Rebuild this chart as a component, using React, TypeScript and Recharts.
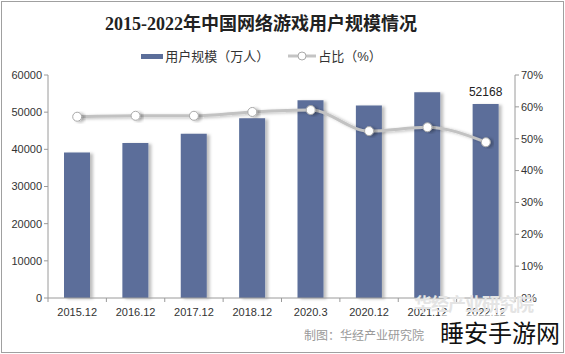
import React from "react";
import {
  ComposedChart,
  Bar,
  Line,
  XAxis,
  YAxis,
  LabelList,
} from "recharts";

const categories = ["2015.12", "2016.12", "2017.12", "2018.12", "2020.3", "2020.12", "2021.12", "2022.12"];
const users = [39148, 41704, 44161, 48384, 53182, 51793, 55354, 52168];
const ratio = [56.9, 57.2, 57.2, 58.4, 59.0, 52.4, 53.6, 48.9];
const leftTicks = [0, 10000, 20000, 30000, 40000, 50000, 60000];
const rightTicks = [0, 10, 20, 30, 40, 50, 60, 70];

const data = categories.map((c, i) => ({ name: c, users: users[i], ratio: ratio[i] }));

const BAR = "#5b6e9a";
const AXIS = "#9a9a9a";
const FONT = "'Liberation Sans', Arial, 'Noto Sans CJK SC', sans-serif";

const XTick = (props: any) => {
  const { x, y, payload, index } = props;
  const off = payload.offset || 0;
  return (
    <g>
      <line x1={x - off} x2={x - off} y1={y - 8} y2={y - 4} stroke={AXIS} />
      {index === categories.length - 1 && (
        <line x1={x + off} x2={x + off} y1={y - 8} y2={y - 4} stroke={AXIS} />
      )}
      <text x={x} y={y + 10} textAnchor="middle" fontSize={11} fill="#333" fontFamily={FONT}>
        {payload.value}
      </text>
    </g>
  );
};

const LegendBox = () => (
  <div
    style={{
      position: "absolute",
      left: 0,
      top: 46,
      width: 522,
      display: "flex",
      justifyContent: "center",
      alignItems: "center",
      fontSize: 13,
      color: "#333",
      fontFamily: FONT,
    }}
  >
    <svg width={24} height={10}>
      <rect x={1} y={3} width={22} height={5} fill={BAR} />
    </svg>
    <span style={{ marginLeft: 1 }}>用户规模（万人）</span>
    <svg width={30} height={10} style={{ marginLeft: 18 }}>
      <line x1={1} x2={29} y1={5} y2={5} stroke="#c4c4c4" strokeWidth={3} />
      <circle cx={15} cy={5} r={4} fill="#fff" stroke="#aaa" />
    </svg>
    <span style={{ marginLeft: 1 }}>占比（%）</span>
  </div>
);

export default function App() {
  return (
    <div style={{ position: "absolute", left: 0, top: 0, width: 565, height: 354, background: "#fff" }}>
      <div style={{ position: "absolute", left: 1, top: 1, width: 561, height: 350, border: "1px solid #a0a0a0" }} />
      <div
        style={{
          position: "absolute",
          left: 0,
          top: 9,
          width: 522,
          textAlign: "center",
          fontSize: 18,
          fontWeight: "bold",
          color: "#222",
          fontFamily: "'Liberation Serif', 'DejaVu Serif', 'Noto Sans CJK SC', serif",
        }}
      >
        2015-2022年中国网络游戏用户规模情况
      </div>
      <LegendBox />
      <ComposedChart
        width={565}
        height={354}
        data={data}
        margin={{ top: 75, right: 0, bottom: 36, left: 0 }}
        style={{ position: "absolute", left: 0, top: 0 }}
      >
        <defs>
          <filter id="sh" x="-20%" y="-10%" width="160%" height="130%">
            <feDropShadow dx={3} dy={1} stdDeviation={1.5} floodColor="#000" floodOpacity={0.25} />
          </filter>
        </defs>
        <XAxis
          dataKey="name"
          axisLine={{ stroke: AXIS }}
          tickLine={false}
          tick={<XTick />}
          interval={0}
          height={20}
        />
        <YAxis
          yAxisId="left"
          domain={[0, 60000]}
          ticks={leftTicks}
          width={48}
          axisLine={{ stroke: AXIS }}
          tickLine={{ stroke: AXIS }}
          tickSize={4}
          tick={{ fontSize: 11, fill: "#333", fontFamily: FONT }}
          interval={0}
        />
        <YAxis
          yAxisId="right"
          orientation="right"
          domain={[0, 70]}
          ticks={rightTicks}
          width={50}
          axisLine={{ stroke: AXIS }}
          tickLine={{ stroke: AXIS }}
          tickSize={4}
          tickFormatter={(v: number) => `${v}%`}
          tick={{ fontSize: 11, fill: "#333", fontFamily: FONT }}
          interval={0}
        />
        <Bar yAxisId="left" dataKey="users" fill={BAR} barSize={26} isAnimationActive={false} style={{ filter: "url(#sh)" }}>
          <LabelList
            dataKey="users"
            content={(p: any) =>
              p.index === categories.length - 1 ? (
                <text x={p.x + p.width / 2} y={p.y - 8} textAnchor="middle" fontSize={12} fill="#222" fontFamily={FONT}>
                  {p.value}
                </text>
              ) : null
            }
          />
        </Bar>
        <Line
          yAxisId="right"
          dataKey="ratio"
          type="monotone"
          stroke="#c2c2c2"
          strokeWidth={3}
          dot={{ r: 4.5, fill: "#fff", stroke: "#a8a8a8", strokeWidth: 1 }}
          isAnimationActive={false}
          style={{ filter: "url(#sh)" }}
        />
      </ComposedChart>
      <div style={{ position: "absolute", left: 414, top: 290, fontSize: 18, fontWeight: "bold", color: "#e4e4e4", fontFamily: "'Noto Sans CJK SC', sans-serif", letterSpacing: -1 }}>
        华经产业研究院
      </div>
      <div style={{ position: "absolute", left: 304, top: 326, fontSize: 12, color: "#999", fontFamily: "'Noto Sans CJK SC', sans-serif" }}>
        制图：华经产业研究院
      </div>
      <div style={{ position: "absolute", left: 440, top: 314, fontSize: 24, color: "#111", fontFamily: "'Noto Sans CJK SC', sans-serif", background: "rgba(255,255,255,0.6)" }}>
        睡安手游网
      </div>
    </div>
  );
}
